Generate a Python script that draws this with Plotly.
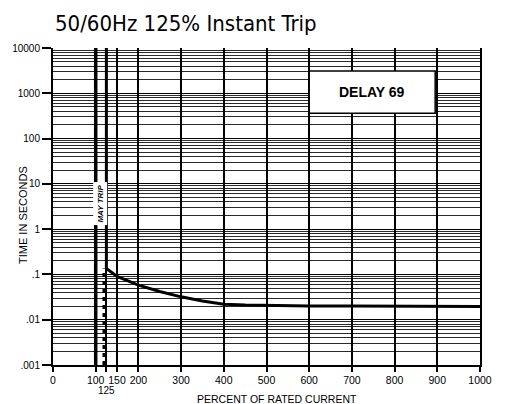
import math
import plotly.graph_objects as go

# Trip curve (percent of rated current vs. seconds)
curve_pct = [125, 150, 200, 250, 300, 350, 400, 450, 500, 600, 700, 800, 900, 1000]
curve_sec = [0.135, 0.09, 0.058, 0.042, 0.032, 0.026, 0.022, 0.021, 0.0205, 0.02, 0.02, 0.0197, 0.0195, 0.0195]

x_ticks = [0, 100, 125, 150, 200, 300, 400, 500, 600, 700, 800, 900, 1000]
x_labels = ["0", "100", "", "150", "200", "300", "400", "500", "600", "700", "800", "900", "1000"]
y_ticks = [0.001, 0.01, 0.1, 1, 10, 100, 1000, 10000]
y_labels = [".001", ".01", ".1", "1", "10", "100", "1000", "10000"]

Y_MIN, Y_MAX = 0.001, 10000
instant_pct = 125
may_trip_pct = 100

# label box (percent range, seconds range)
box_pct = (600, 895)
box_sec = (363, 3100)

W, H = 511, 404
L, R, T, B = 53, 31, 48, 39

fig = go.Figure()

# may-trip boundary at 100%
fig.add_trace(go.Scatter(x=[may_trip_pct, may_trip_pct], y=[Y_MIN, Y_MAX], mode="lines",
                         line=dict(color="black", width=3.5), hoverinfo="skip"))
# dotted part below the instant-trip point
fig.add_trace(go.Scatter(x=[instant_pct - 5, instant_pct - 5], y=[Y_MIN, curve_sec[0]], mode="lines",
                         line=dict(color="black", width=3.5, dash="4px,4px"), hoverinfo="skip"))
# solid instant-trip line plus the curve
fig.add_trace(go.Scatter(x=[instant_pct] + curve_pct, y=[Y_MAX] + curve_sec, mode="lines",
                         line=dict(color="black", width=3), hoverinfo="skip"))

# DELAY box
fig.add_shape(type="rect", x0=box_pct[0], x1=box_pct[1], y0=box_sec[0], y1=box_sec[1],
              xref="x", yref="y",
              fillcolor="white", line=dict(color="black", width=1.5), layer="above")
fig.add_annotation(x=sum(box_pct) / 2, y=(math.log10(box_sec[0]) + math.log10(box_sec[1])) / 2,
                   xref="x", yref="y", text="<b>DELAY 69</b>", showarrow=False,
                   font=dict(family="Liberation Sans, Arial", size=14, color="black"))

# MAY TRIP label between the 100% and 125% lines
fig.add_annotation(x=(may_trip_pct + instant_pct) / 2 - 1, y=math.log10(3.6), xref="x", yref="y",
                   text="<b><i>MAY TRIP</i></b>", showarrow=False,
                   textangle=-90, bgcolor="white", borderpad=2,
                   font=dict(family="Liberation Sans, Arial", size=8, color="black"))

# 125 label on a second row
fig.add_annotation(x=instant_pct, y=0, xref="x", yref="paper", yshift=-25, yanchor="middle",
                   text="125", showarrow=False,
                   font=dict(family="Liberation Sans, Arial", size=10, color="black"))

# axis titles
fig.add_annotation(x=(277 - L) / (W - L - R), y=0, xref="paper", yref="paper",
                   yshift=-34, yanchor="middle", text="PERCENT OF RATED CURRENT", showarrow=False,
                   font=dict(family="Liberation Sans, Arial", size=10.5, color="black"))
fig.add_annotation(x=0, y=(H - B - 215) / (H - T - B), xref="paper", yref="paper",
                   xshift=-(L - 23), xanchor="center", yanchor="middle", textangle=-90,
                   text="TIME IN SECONDS", showarrow=False,
                   font=dict(family="Liberation Sans, Arial", size=11, color="black"))

fig.update_layout(
    width=W, height=H,
    margin=dict(l=L, r=R, t=T, b=B),
    paper_bgcolor="white", plot_bgcolor="white",
    showlegend=False,
    title=dict(text="50/60Hz 125% Instant Trip", x=55 / W, xanchor="left", y=1 - 23 / H,
               yanchor="middle",
               font=dict(family="DejaVu Sans Condensed, Arial", size=22, color="black")),
    font=dict(family="Liberation Sans, Arial", size=10.5, color="black"),
)

fig.update_xaxes(
    range=[0, 1000], tickvals=x_ticks, ticktext=x_labels, automargin=False,
    showgrid=True, gridcolor="black", gridwidth=1.6,
    zeroline=False, showline=True, linecolor="black", linewidth=1.5,
    ticks="outside", ticklen=5, tickcolor="black", tickwidth=1.5,
    tickfont=dict(size=10.5),
)
fig.update_yaxes(
    type="log", range=[-3, 4], tickvals=y_ticks, ticktext=y_labels, automargin=False,
    showgrid=True, gridcolor="black", gridwidth=1.2,
    minor=dict(showgrid=True, dtick="D1", gridcolor="#2a2a2a", gridwidth=1, ticks=""),
    zeroline=False, showline=True, linecolor="black", linewidth=2, mirror=True,
    ticks="outside", ticklen=9, tickcolor="black", tickwidth=1.5,
    tickfont=dict(size=10),
)

fig.write_html("out.html")
